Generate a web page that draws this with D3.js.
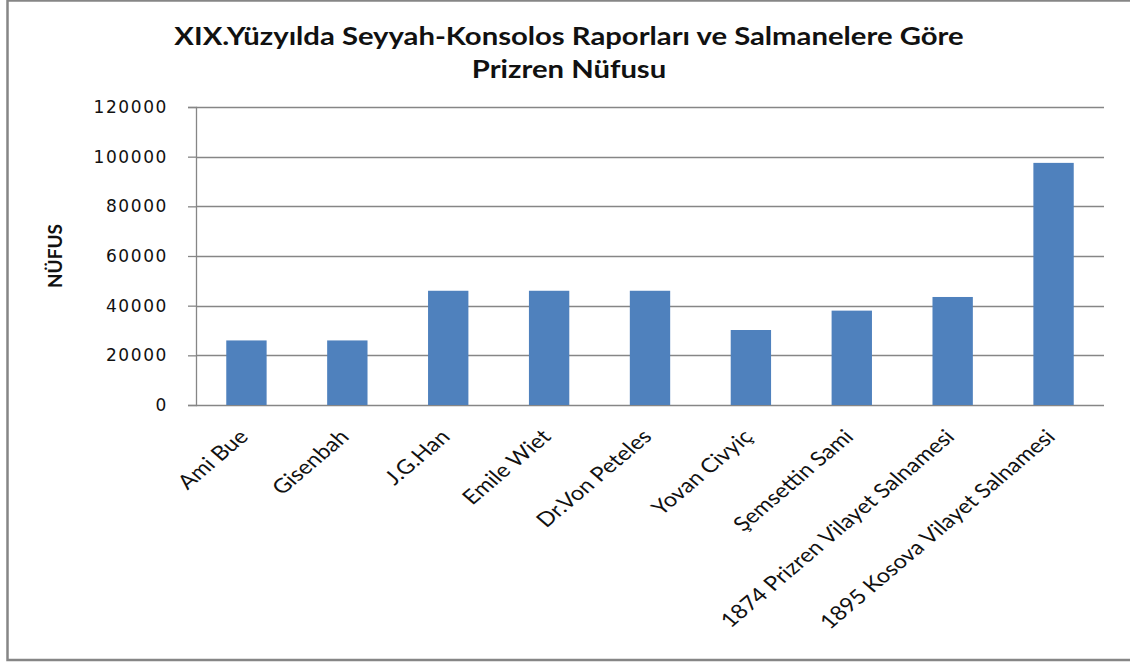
<!DOCTYPE html>
<html>
<head>
<meta charset="utf-8">
<script src="https://cdn.jsdelivr.net/npm/d3@7"></script>
<style>
  body { margin: 0; background: #fff; }
  svg { display: block; }
</style>
</head>
<body>
<div id="chart"></div>
<script>
// population figures for Prizren
var sources = ["Ami Bue", "Gisenbah", "J.G.Han", "Emile Wiet", "Dr.Von Peteles",
  "Yovan Civyiç", "Şemsettin Sami", "1874 Prizren Vilayet Salnamesi", "1895 Kosova Vilayet Salnamesi"];
var nufus = [26000, 26000, 46000, 46000, 46000, 30200, 38000, 43500, 97500];
var yTicks = [0, 20000, 40000, 60000, 80000, 100000, 120000];

var titleLines = ["XIX.Yüzyılda Seyyah-Konsolos Raporları ve Salmanelere Göre", "Prizren Nüfusu"];

var width = 1130, height = 663;
var margin = {top: 107, right: 26, bottom: 258, left: 196};
// the source picture is a bit stretched sideways
var stretch = 1.18;

var svg = d3.select("#chart")
  .append("svg")
  .attr("width", width)
  .attr("height", height);

// outer frame
svg.append("rect")
  .attr("x", 7.5).attr("y", 0.5)
  .attr("width", width + 10).attr("height", 659.5)
  .attr("fill", "none")
  .attr("stroke", "#868686")
  .attr("stroke-width", 2.5);

var x = d3.scaleBand()
  .domain(sources)
  .range([margin.left, width - margin.right])
  .paddingInner(0.6)
  .paddingOuter(0.3);

var y = d3.scaleLinear()
  .domain([0, 120000])
  .range([height - margin.bottom, margin.top]);

// grid + y axis
var yAxis = svg.append("g")
  .attr("transform", "translate(" + margin.left + ",0)")
  .call(d3.axisLeft(y).tickValues(yTicks).tickFormat(d3.format("d")).tickSize(8).tickPadding(20));
yAxis.select(".domain").attr("stroke", "#868686").attr("stroke-width", 1.3);
yAxis.selectAll(".tick line").attr("stroke", "#868686").attr("stroke-width", 1.3);
yAxis.selectAll(".tick text")
  .attr("font-family", "DejaVu Sans")
  .attr("font-size", 17)
  .attr("letter-spacing", 1.6)
  .attr("fill", "#111");

svg.append("g")
  .selectAll("line")
  .data(yTicks)
  .join("line")
  .attr("x1", margin.left)
  .attr("x2", width - margin.right)
  .attr("y1", function(d) { return Math.round(y(d)) + 0.5; })
  .attr("y2", function(d) { return Math.round(y(d)) + 0.5; })
  .attr("stroke", "#868686")
  .attr("stroke-width", 1.3);

// bars
svg.append("g")
  .selectAll("rect")
  .data(nufus)
  .join("rect")
  .attr("x", function(d, i) { return x(sources[i]); })
  .attr("width", x.bandwidth())
  .attr("y", function(d) { return y(d); })
  .attr("height", function(d) { return y(0) - y(d); })
  .attr("fill", "#4f81bd");

// category labels, rotated
svg.append("g")
  .selectAll("text")
  .data(sources)
  .join("text")
  .attr("transform", function(d) {
    var cx = x(d) + x.bandwidth() / 2 + 3;
    return "translate(" + cx + "," + (y(0) + 33) + ") scale(" + stretch + ",1) rotate(-45)";
  })
  .attr("text-anchor", "end")
  .attr("font-family", "Lato")
  .attr("font-size", 20)
  .attr("fill", "#111")
  .text(function(d) { return d; });

// title
svg.append("g")
  .selectAll("text")
  .data(titleLines)
  .join("text")
  .attr("transform", function(d, i) {
    return "translate(569," + (45 + i * 33) + ") scale(" + stretch + ",1)";
  })
  .attr("text-anchor", "middle")
  .attr("font-family", "Lato")
  .attr("font-weight", "bold")
  .attr("font-size", 24.8)
  .attr("fill", "#111")
  .text(function(d) { return d; });

// y axis title
svg.append("text")
  .attr("transform", "translate(62,256) rotate(-90)")
  .attr("text-anchor", "middle")
  .attr("font-family", "Lato")
  .attr("font-weight", "bold")
  .attr("font-size", 19)
  .attr("fill", "#111")
  .text("NÜFUS");
</script>
</body>
</html>
